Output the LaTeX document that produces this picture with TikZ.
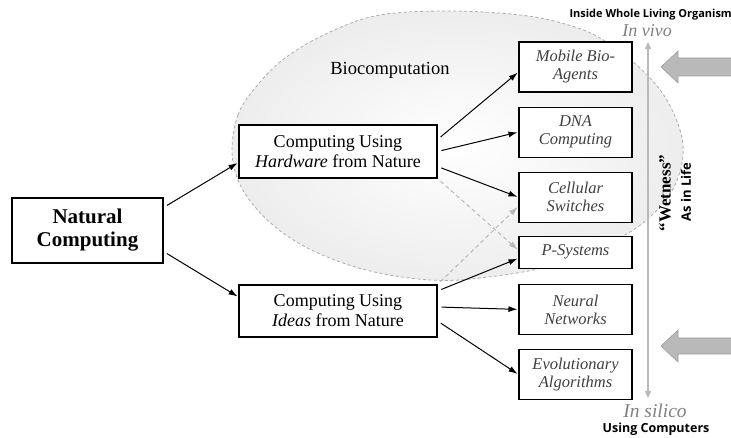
\documentclass[tikz,border=0pt]{standalone}
\usepackage{fontspec}
\setmainfont{Liberation Serif}
\newfontfamily\notesans{Open Sans}
\usetikzlibrary{arrows.meta,positioning}
\tikzset{
    %Define standard arrow tip
    >={Latex[length=9pt,width=6pt]},
    %Define style for boxes
    mainbox/.style={
           rectangle,
           draw=black, line width=1.1pt,
           fill=white,
           align=center},
    techbox/.style={
           mainbox,
           minimum width=113pt,
           minimum height=50pt,
           text=black!75,
           font=\fontsize{16.5}{18}\selectfont\itshape},
    % Define arrow style
    pil/.style={
           ->,
           line width=1pt,
           shorten <=4pt,
           shorten >=1pt},
    gpil/.style={
           pil, gray!55,
           dash pattern=on 4pt off 3pt},
    bigarrow/.style={
           fill=gray!55, draw=gray!75, line width=0.6pt}
}

\begin{document}
\begin{tikzpicture}[x=1pt,y=-1pt]
\useasboundingbox (0,0) rectangle (731,438);

% biocomputation region
\draw[gray!65, dash pattern=on 3pt off 2.5pt, line width=0.8pt,
      inner color=white, outer color=gray!14]
   plot[smooth cycle, tension=0.6] coordinates {
     (232,150) (238,115) (255,88) (285,58) (330,32) (380,15) (450,11) (520,15)
     (565,24) (600,38) (640,68) (668,102) (683,145) (675,185) (650,217) (615,240)
     (550,266) (480,278) (430,280) (370,271) (320,254) (283,233) (255,207) (238,180)};
\node (bio) at (390,70) {\fontsize{18.5}{20}\selectfont Biocomputation};

\node[mainbox, minimum width=151pt, minimum height=65pt,
      font=\fontsize{21}{23}\selectfont\bfseries] (nat) at (87.5,230.5) {Natural\\Computing};
\node[mainbox, minimum width=198pt, minimum height=53pt,
      font=\fontsize{18}{20}\selectfont] (hw) at (338,151.5) {Computing Using\\\textit{Hardware} from Nature};
\node[mainbox, minimum width=198pt, minimum height=52pt,
      font=\fontsize{18}{20}\selectfont] (id) at (338,311) {Computing Using\\\textit{Ideas} from Nature};

\node[techbox] (mob) at (575.5,67) {Mobile Bio-\\Agents};
\node[techbox, below=14pt of mob] (dna) {DNA\\Computing};
\node[techbox, below=14pt of dna] (cel) {Cellular\\Switches};
\node[techbox, minimum height=32pt, below=13pt of cel] (psy) {P-Systems};
\node[techbox, below=15pt of psy] (neu) {Neural\\Networks};
\node[techbox, below=14pt of neu] (evo) {Evolutionary\\Algorithms};

% in vivo / in silico scale
\node[font=\notesans\bfseries\fontsize{11}{13}\selectfont, anchor=west] (inside) at (566,15) {Inside Whole Living Organism};
\node[text=gray, font=\fontsize{18}{19}\selectfont\itshape] (vivo) at (647,31) {In vivo};
\node[text=gray, font=\fontsize{19.5}{21}\selectfont\itshape] (silico) at (655,411) {In silico};
\node[font=\notesans\bfseries\fontsize{12.5}{14}\selectfont] (usecomp) at (656,429) {Using Computers};
\node[rotate=90, font=\fontsize{17}{19}\selectfont\bfseries] (wet) at (665,193) {“Wetness”};
\node[rotate=90, font=\notesans\bfseries\fontsize{13}{14}\selectfont] (life) at (686,192) {As in Life};
\coordinate (wettop) at (648,42);
\coordinate (wetbot) at (648,398);
\draw[<->, gray!55, line width=1.3pt, >={Triangle[length=7pt,width=6pt]}] (wetbot) -- (wettop);

\filldraw[bigarrow] (735,58) -- (678,58) -- (678,51) -- (661,67) -- (678,83) -- (678,76) -- (735,76);
\filldraw[bigarrow] (735,338) -- (678,338) -- (678,330) -- (661,346) -- (678,362) -- (678,354) -- (735,354);

\draw[pil] ([yshift=23pt]nat.east) -- ([yshift=-11pt]hw.west);
\draw[pil] ([yshift=-21pt]nat.east) -- ([yshift=14pt]id.west);

\draw[pil] ([yshift=12pt]hw.east) -- ([yshift=-5pt]mob.west);
\draw[pil] (hw.east) -- (dna.west);
\draw[pil] ([yshift=-15pt]hw.east) -- (cel.west);
\draw[gpil] (hw.south east) -- ([yshift=2pt]psy.west);

\draw[gpil] (id.north east) -- ([yshift=-9pt]cel.west);
\draw[pil] ([yshift=20pt]id.east) -- ([yshift=-6pt]psy.west);
\draw[pil] ([yshift=4pt]id.east) -- (neu.west);
\draw[pil] ([yshift=-10pt]id.east) -- (evo.west);

\end{tikzpicture}
\end{document}
